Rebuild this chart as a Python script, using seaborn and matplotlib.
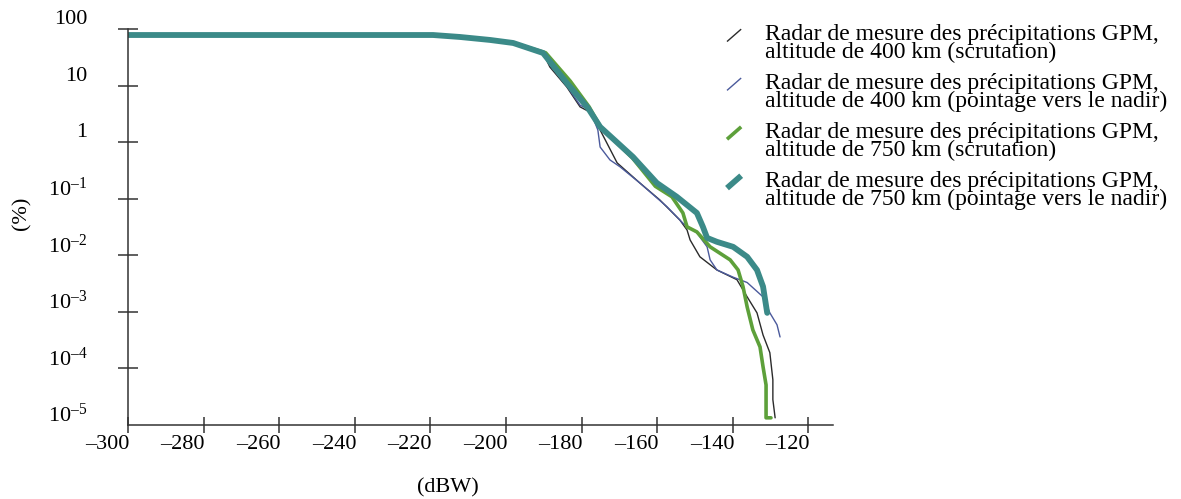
import numpy as np
import pandas as pd
import matplotlib
matplotlib.use("Agg")
import matplotlib.pyplot as plt
import seaborn as sns
from matplotlib.lines import Line2D
from matplotlib.legend_handler import HandlerBase
from matplotlib.transforms import ScaledTranslation

# ---------------- data ----------------
x_teal = [-300, -219.3, -212.2, -204.2, -198.1, -190.2, -183.9, -178.3, -175.1, -166.4,
          -160.1, -154.8, -149.5, -147.9, -146.8, -144.2, -139.9, -136.2, -133.6, -132.0, -130.9]
y_teal = [78.3, 78.3, 72.3, 64.0, 56.6, 37.7, 11.1, 4.0, 1.86, 0.548,
          0.19, 0.108, 0.056, 0.0318, 0.0203, 0.0173, 0.0141, 0.0094, 0.0055, 0.0028, 0.00096]

x_green = [-300, -219.3, -212.2, -204.2, -198.1, -189.5, -183.0, -178.0, -175.0, -166.5,
           -160.5, -156.1, -153.2, -152.1, -149.5, -146.0, -140.7, -138.6, -137.3, -136.2,
           -134.7, -132.8, -132.0, -131.2, -131.2, -129.9]
y_green = [78.3, 78.3, 72.3, 64.0, 56.6, 38.0, 12.0, 4.2, 1.86, 0.52,
           0.166, 0.108, 0.056, 0.0318, 0.0259, 0.0141, 0.0083, 0.0055, 0.0028, 0.00122,
           0.00048, 0.00024, 0.000107, 5.1e-5, 1.34e-5, 1.34e-5]

x_black = [-300, -219.3, -212.2, -204.2, -198.1, -190.2, -188.4, -183.9, -180.4, -177.8,
           -175.1, -170.6, -164.6, -159.3, -154.0, -152.1, -151.3, -148.7, -144.2, -138.9,
           -136.2, -133.6, -132.0, -130.2, -129.4, -129.4, -128.8]
y_black = [76.0, 76.0, 70.5, 62.5, 55.5, 37.7, 21.3, 9.4, 4.2, 3.4,
           1.64, 0.43, 0.19, 0.095, 0.042, 0.028, 0.0187, 0.0094, 0.0055, 0.0037,
           0.00184, 0.00096, 0.00039, 0.00019, 6.3e-5, 2.8e-5, 1.34e-5]

x_blue = [-300, -219.3, -212.2, -204.2, -198.1, -190.2, -188.4, -183.9, -180.4, -177.8,
          -175.7, -175.1, -172.5, -169.8, -164.6, -157.4, -153.2, -149.5, -146.8, -146.0,
          -144.2, -139.9, -136.2, -132.0, -130.2, -128.3, -127.5]
y_blue = [75.0, 75.0, 70.0, 62.0, 55.0, 37.7, 23.1, 9.8, 4.5, 3.7,
          1.64, 0.82, 0.485, 0.365, 0.19, 0.072, 0.037, 0.0249, 0.0141, 0.0083,
          0.0055, 0.0041, 0.0033, 0.00184, 0.00096, 0.00059, 0.00036]

series_labels = [
    "Radar de mesure des précipitations GPM,\naltitude de 400 km (scrutation)",
    "Radar de mesure des précipitations GPM,\naltitude de 400 km (pointage vers le nadir)",
    "Radar de mesure des précipitations GPM,\naltitude de 750 km (scrutation)",
    "Radar de mesure des précipitations GPM,\naltitude de 750 km (pointage vers le nadir)",
]
x_ticks = [-300, -280, -260, -240, -220, -200, -180, -160, -140, -120]
x_ticklabels = ["\u2013300", "\u2013280", "\u2013260", "\u2013240", "\u2013220",
                "\u2013200", "\u2013180", "\u2013160", "\u2013140", "\u2013120"]
y_ticks = [1e-5, 1e-4, 1e-3, 1e-2, 1e-1, 1, 10, 100]
y_ticklabels = ["10$^{\u2013 5}$", "10$^{\u2013 4}$", "10$^{\u2013 3}$", "10$^{\u2013 2}$",
                "10$^{\u2013 1}$", "1", "10", "100"]

# ---------------- style ----------------
sns.set_style("white")
plt.rcParams["font.family"] = ["Liberation Serif", "DejaVu Serif"]
plt.rcParams["mathtext.fontset"] = "custom"
plt.rcParams["mathtext.rm"] = "Liberation Serif"
plt.rcParams["mathtext.it"] = "Liberation Serif:italic"
plt.rcParams["mathtext.default"] = "regular"
plt.rcParams["text.color"] = "black"
plt.rcParams["xtick.color"] = "black"
plt.rcParams["ytick.color"] = "black"

FS = 16.0
LFS = 17.0
AX_COL = "#333333"

fig = plt.figure(figsize=(11.81, 4.99), dpi=100)
W, H = 1181, 499
ax = fig.add_axes([128 / W, 1 - 425 / H, (833 - 128) / W, (425 - 29) / H])

colors = ["#2b2b2b", "#4b5a9c", "#5da03a", "#3b8a88"]
widths = [1.0, 1.0, 2.6, 4.2]
xs = [x_black, x_blue, x_green, x_teal]
ys = [y_black, y_blue, y_green, y_teal]

for xv, yv, c, lw, lab in zip(xs, ys, colors, widths, series_labels):
    df = pd.DataFrame({"x": xv, "y": yv})
    sns.lineplot(data=df, x="x", y="y", ax=ax, sort=False, estimator=None,
                 color=c, linewidth=lw, label=lab)

ax.set_yscale("log")
ax.set_xlim(-300, -300 + (833 - 128) / 3.78)
ax.set_ylim(1e-5, 100)

ax.set_xticks(x_ticks)
ax.set_xticklabels(x_ticklabels, fontsize=FS, ha="right")
ax.set_yticks(y_ticks)
ax.set_yticklabels(y_ticklabels, fontsize=FS)
ax.yaxis.set_minor_locator(matplotlib.ticker.NullLocator())

ax.tick_params(axis="x", which="major", bottom=True, direction="inout", length=12,
               width=1.1, color=AX_COL, labelcolor="black", pad=1)
ax.tick_params(axis="y", which="major", left=True, direction="inout", length=14.4,
               width=1.1, color=AX_COL, labelcolor="black", pad=22)
ax.yaxis.get_major_ticks()[0].tick1line.set_visible(False)

off = ScaledTranslation(0, 0.12, fig.dpi_scale_trans)
for lab in ax.get_yticklabels():
    lab.set_transform(lab.get_transform() + off)
offx = ScaledTranslation(0.015, 0, fig.dpi_scale_trans)
for lab in ax.get_xticklabels():
    lab.set_transform(lab.get_transform() + offx)

for s in ["top", "right"]:
    ax.spines[s].set_visible(False)
for s in ["left", "bottom"]:
    ax.spines[s].set_color(AX_COL)
    ax.spines[s].set_linewidth(1.1)

ax.set_xlabel("")
ax.set_ylabel("")
fig.text(448 / W, 1 - 488 / H, "(dBW)", ha="center", va="center", fontsize=FS)
fig.text(22 / W, 1 - 213 / H, "(%)", ha="center", va="center", rotation=90, fontsize=FS)


class DiagHandler(HandlerBase):
    def create_artists(self, legend, orig_handle, xdescent, ydescent, width, height,
                       fontsize, trans):
        x0, y0 = -xdescent, -ydescent
        ln = Line2D([x0, x0 + width], [y0 + height * 0.6, y0 + height * 1.35],
                    color=orig_handle.get_color(), linewidth=orig_handle.get_linewidth(),
                    solid_capstyle="butt")
        ln.set_transform(trans)
        return [ln]


handles, labels = ax.get_legend_handles_labels()
leg = ax.legend(handles, labels, loc="upper left", bbox_to_anchor=(727 / W, 1 - 24 / H),
                bbox_transform=fig.transFigure, frameon=False, fontsize=LFS,
                handlelength=0.6, handletextpad=1.0, labelspacing=0.42,
                borderaxespad=0, borderpad=0,
                handler_map={Line2D: DiagHandler()})
for t in leg.get_texts():
    t.set_linespacing(0.8)
    t.set_color("black")

fig.savefig("out.png", dpi=100, facecolor="white")
